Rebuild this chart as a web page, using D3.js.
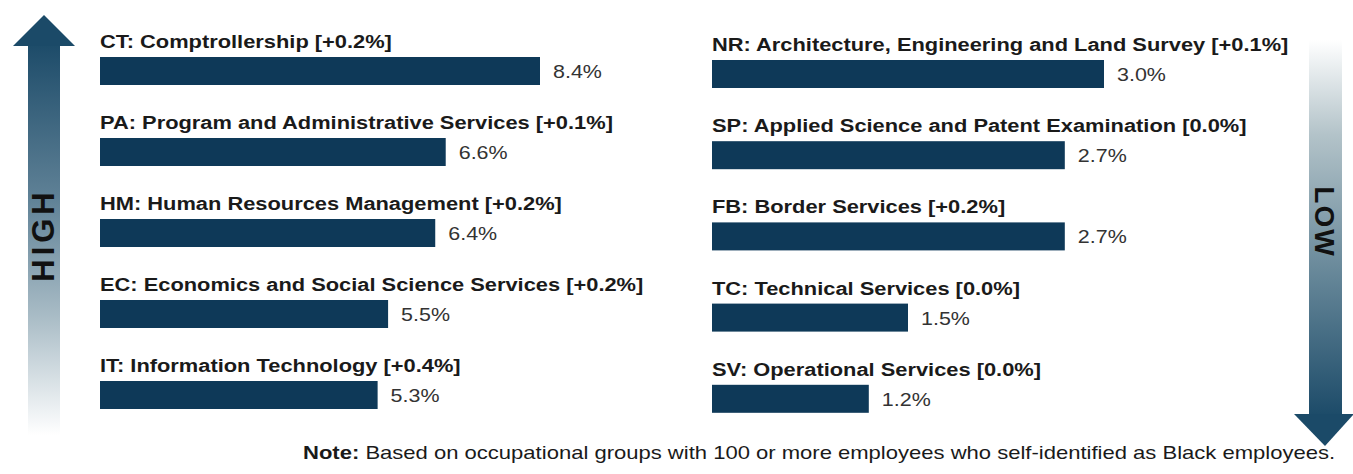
<!DOCTYPE html>
<html>
<head>
<meta charset="utf-8">
<script src="https://cdn.jsdelivr.net/npm/d3@7"></script>
<style>
  body { margin: 0; background: #ffffff; }
  svg { display: block; font-family: Arial, "Liberation Sans", sans-serif; }
</style>
</head>
<body>
<script>
// Occupational groups - high representation (left panel)
var highGroups = ["CT: Comptrollership", "PA: Program and Administrative Services",
                  "HM: Human Resources Management", "EC: Economics and Social Science Services",
                  "IT: Information Technology"];
var highChange = ["+0.2%", "+0.1%", "+0.2%", "+0.2%", "+0.4%"];
var highValues = [8.4, 6.6, 6.4, 5.5, 5.3];

// Occupational groups - low representation (right panel)
var lowGroups = ["NR: Architecture, Engineering and Land Survey", "SP: Applied Science and Patent Examination",
                 "FB: Border Services", "TC: Technical Services", "SV: Operational Services"];
var lowChange = ["+0.1%", "0.0%", "+0.2%", "0.0%", "0.0%"];
var lowValues = [3.0, 2.7, 2.7, 1.5, 1.2];

var noteBold = "Note:";
var noteText = " Based on occupational groups with 100 or more employees who self-identified as Black employees.";

var width = 1353, height = 474;
var barColor = "#0e3958";
// the source text is slightly stretched horizontally
var stretch = 1.15;

var svg = d3.select("body").append("svg")
    .attr("width", width)
    .attr("height", height);

var defs = svg.append("defs");

// Gradient for the "high" arrow (dark at top, fades to white)
var gUp = defs.append("linearGradient").attr("id", "gradUp")
    .attr("x1", 0).attr("y1", 0).attr("x2", 0).attr("y2", 1);
gUp.append("stop").attr("offset", "0%").attr("stop-color", "#1b4a68");
gUp.append("stop").attr("offset", "40%").attr("stop-color", "#5f8196");
gUp.append("stop").attr("offset", "70%").attr("stop-color", "#a9bcc6");
gUp.append("stop").attr("offset", "100%").attr("stop-color", "#ffffff");

// Gradient for the "low" arrow (white at top, dark at bottom)
var gDown = defs.append("linearGradient").attr("id", "gradDown")
    .attr("x1", 0).attr("y1", 0).attr("x2", 0).attr("y2", 1);
gDown.append("stop").attr("offset", "0%").attr("stop-color", "#ffffff");
gDown.append("stop").attr("offset", "25%").attr("stop-color", "#b3c3c9");
gDown.append("stop").attr("offset", "60%").attr("stop-color", "#6a8a9b");
gDown.append("stop").attr("offset", "100%").attr("stop-color", "#1b4a68");

// Left arrow: shaft + head
var upArrow = svg.append("g");
upArrow.append("rect")
    .attr("x", 28).attr("y", 40).attr("width", 32).attr("height", 395)
    .attr("fill", "url(#gradUp)");
upArrow.append("path")
    .attr("d", "M44,15 L75,46 L13,46 Z")
    .attr("fill", "#1b4a68");
upArrow.append("text")
    .attr("transform", "translate(54,235) rotate(-90)")
    .attr("text-anchor", "middle")
    .attr("font-size", 31)
    .attr("font-weight", "bold")
    .attr("letter-spacing", 4)
    .attr("fill", "#111")
    .text("HIGH");

// Right arrow: shaft + head
var downArrow = svg.append("g");
downArrow.append("rect")
    .attr("x", 1309).attr("y", 40).attr("width", 33).attr("height", 378)
    .attr("fill", "url(#gradDown)");
downArrow.append("path")
    .attr("d", "M1294,414 L1354,414 L1325,446 Z")
    .attr("fill", "#1b4a68");
downArrow.append("text")
    .attr("transform", "translate(1315,222) rotate(90)")
    .attr("text-anchor", "middle")
    .attr("font-size", 28)
    .attr("font-weight", "bold")
    .attr("letter-spacing", 2)
    .attr("fill", "#111")
    .text("LOW");

// Draws one panel of labelled horizontal bars
function drawPanel(groups, change, values, xScale, yScale) {
    var g = svg.append("g");
    var rows = g.selectAll("g.row")
        .data(values)
        .enter().append("g")
        .attr("class", "row")
        .attr("transform", function(d, i) { return "translate(0," + yScale(groups[i]) + ")"; });

    rows.append("text")
        .attr("transform", "translate(" + xScale(0) + ",18) scale(" + stretch + ",1)")
        .attr("font-size", 19)
        .attr("font-weight", "bold")
        .attr("fill", "#1a1a1a")
        .text(function(d, i) { return groups[i] + " [" + change[i] + "]"; });

    rows.append("rect")
        .attr("x", xScale(0))
        .attr("y", 27)
        .attr("height", 28)
        .attr("width", function(d) { return xScale(d) - xScale(0); })
        .attr("fill", barColor);

    rows.append("text")
        .attr("transform", function(d) { return "translate(" + (xScale(d) + 13) + ",48) scale(1.13,1)"; })
        .attr("font-size", 19)
        .attr("fill", "#333")
        .text(function(d) { return d.toFixed(1) + "%"; });
}

var xHigh = d3.scaleLinear().domain([0, 8.4]).range([100, 540]);
var yHigh = d3.scaleBand().domain(highGroups).range([30, 435]);
drawPanel(highGroups, highChange, highValues, xHigh, yHigh);

var xLow = d3.scaleLinear().domain([0, 3.0]).range([712, 1104]);
var yLow = d3.scaleBand().domain(lowGroups).range([33, 439]);
drawPanel(lowGroups, lowChange, lowValues, xLow, yLow);

// Footnote
var note = svg.append("text")
    .attr("transform", "translate(303,459) scale(1.16,1)")
    .attr("font-size", 19)
    .attr("fill", "#1a1a1a");
note.append("tspan").attr("font-weight", "bold").text(noteBold);
note.append("tspan").text(noteText);
</script>
</body>
</html>
